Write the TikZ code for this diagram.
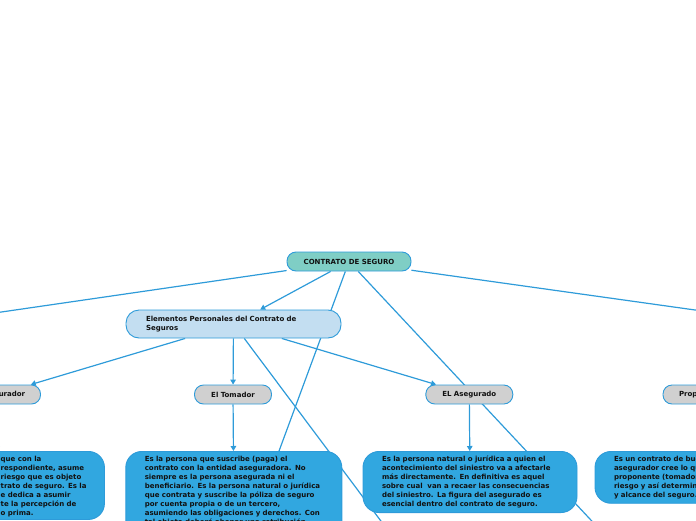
\documentclass[tikz,border=0pt]{standalone}
\usepackage{fontspec}
\setmainfont{DejaVu Sans}
\usetikzlibrary{arrows.meta,backgrounds}
\definecolor{conn}{HTML}{2E9BD9}
\definecolor{rootfill}{HTML}{7FCEC5}
\definecolor{subfill}{HTML}{C3DEF1}
\definecolor{grayfill}{HTML}{D0D0D0}
\definecolor{descfill}{HTML}{31A7E0}
\definecolor{txt}{HTML}{111111}
\begin{document}
\begin{tikzpicture}[x=1pt,y=-1pt,
  link/.style={draw=conn, line width=1.2pt},
  arr/.style={link, -{Triangle[length=5pt,width=5.5pt]}},
  base/.style={draw=conn, line width=0.9pt, text=txt, inner sep=0pt,
    font=\bfseries\fontsize{7}{9}\selectfont},
  rootbox/.style={base, fill=rootfill, rounded corners=9pt, minimum width=124pt, minimum height=19pt},
  subbox/.style={base, fill=subfill, rounded corners=13pt, minimum width=215pt, minimum height=28pt, text width=175pt, align=left},
  graybox/.style={base, fill=grayfill, rounded corners=9pt, minimum height=19pt},
  descbox/.style={base, fill=descfill, rounded corners=16pt, align=left, inner xsep=19pt, inner ysep=4.5pt, anchor=north},
  desctext/.style={text=txt, inner xsep=0pt, inner ysep=4.5pt, align=left, anchor=north west,
    font=\bfseries\fontsize{7}{9}\selectfont}
]
\path[use as bounding box] (0,0) rectangle (696,520);
\clip (0,0) rectangle (696,520);

% off-picture ends
\coordinate (offL) at (-150,334);
\coordinate (offR) at (800,324.7);
\coordinate (offB) at (224,600);
\coordinate (offC) at (669,603.5);
\coordinate (offD) at (440,600);

\node[rootbox] (contrato) at (349,261.5) {CONTRATO DE SEGURO};
\node[subbox] (elem) at (233.5,324) {Elementos Personales del Contrato de\\Seguros};
\node[graybox, minimum width=86pt] (asegurador) at (-2.5,394.5) {El Asegurador};
\node[graybox, minimum width=77pt] (tomador) at (233,394.5) {El Tomador};
\node[graybox, minimum width=87pt] (asegurado) at (469.3,394.5) {EL Asegurado};
\node[graybox, minimum width=70pt] (proposito) at (698,394.5) {Propósito};

\node[descbox, minimum width=215pt, minimum height=68pt, anchor=north west] (asegrd) at (-111,451) {};
\node[desctext] (asegrdtext) at (0.5,451) {que con la\\respondiente, asume\\riesgo que es objeto\\trato de seguro. Es la\\e dedica a asumir\\te la percepción de\\o prima.};

\node[descbox, text width=178pt] (tomd) at (233.8,451) {Es la persona que suscribe (paga) el\\contrato con la entidad aseguradora. No\\siempre es la persona asegurada ni el\\beneficiario. Es la persona natural o jurídica\\que contrata y suscribe la póliza de seguro\\por cuenta propia o de un tercero,\\asumiendo las obligaciones y derechos. Con\\tal objeto deberá abonar una retribución\\denominada prima.};

\node[descbox, text width=176pt] (asegd) at (470,451) {Es la persona natural o jurídica a quien el\\acontecimiento del siniestro va a afectarle\\más directamente. En definitiva es aquel\\sobre cual\ \ van a recaer las consecuencias\\del siniestro. La figura del asegurado es\\esencial dentro del contrato de seguro.};

\node[descbox, text width=177pt] (propd) at (702.5,451) {Es un contrato de buena fe, ya que el\\asegurador cree lo que le declara el\\proponente (tomador) para valorar el\\riesgo y así determinar las condiciones\\y alcance del seguro.};

% connectors behind nodes
\begin{pgfonlayer}{background}
\draw[link] (contrato) -- (offL);
\draw[link] (contrato) -- (offR);
\draw[link] (contrato) -- (offB);
\draw[link] (contrato) -- (offC);
\draw[arr] (contrato) -- (elem);
\draw[arr] (elem) -- (asegurador);
\draw[arr] (elem) -- (tomador);
\draw[arr] (elem) -- (asegurado);
\draw[link] (elem) -- (offD);
\draw[arr] (asegurador) -- (asegrd);
\draw[arr] (tomador) -- (tomd);
\draw[arr] (asegurado) -- (asegd);
\draw[arr] (proposito) -- (propd);
\end{pgfonlayer}
\end{tikzpicture}
\end{document}
